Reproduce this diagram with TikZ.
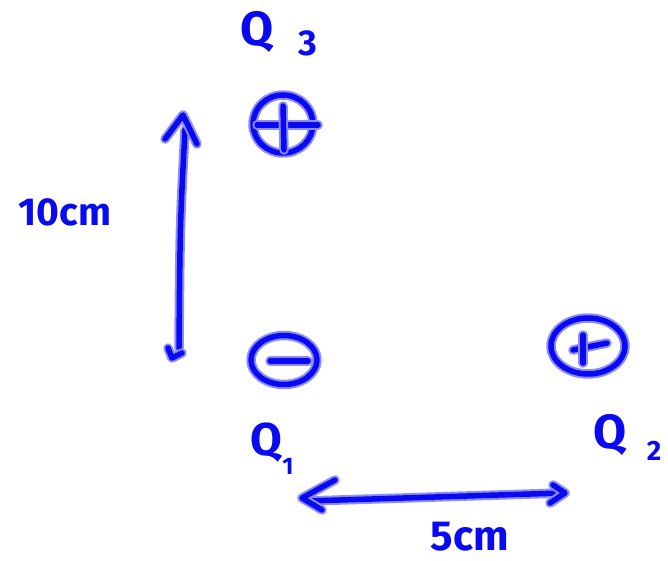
\documentclass[tikz,border=0pt]{standalone}
\usepackage{fontspec}
\newfontfamily\hand{Fira Sans}
\usetikzlibrary{shapes.geometric,calc}
\definecolor{ink}{HTML}{0A0AF0}
\definecolor{halo}{HTML}{8C8CFF}
\begin{document}
\begin{tikzpicture}[x=1pt,y=-1pt,
  ink/.style={draw=ink, line width=5.5pt, line cap=round, line join=round,
              preaction={draw=halo, line width=9.5pt, line cap=round, line join=round}},
  charge/.style={ellipse, ink, inner sep=0pt},
  lbl/.style={text=ink, font=\hand\bfseries\fontsize{#1}{#1}\selectfont, inner sep=0pt, anchor=base},
]
\useasboundingbox (0,0) rectangle (668,561);

% charges
\node[charge, minimum width=60pt, minimum height=58pt] (q3) at (283,124) {};
\node[charge, minimum width=66pt, minimum height=49pt] (q1) at (284,360) {};
\node[charge, minimum width=74pt, minimum height=56pt] (q2) at (588,346) {};

% signs
\draw[ink] ($(q3.center)+(-26,1)$) -- ($(q3.center)+(35,1)$);
\draw[ink] ($(q3.center)+(0,-18)$) -- ($(q3.center)+(1,26)$);
\draw[ink] ($(q1.center)+(-14,1)$) -- ($(q1.center)+(24,1)$);
\draw[ink] ($(q2.center)+(-15,4)$) -- ($(q2.center)+(19,-3)$);
\draw[ink] ($(q2.center)+(-5,-11)$) -- ($(q2.center)+(-5,17)$);

% labels
\node[lbl=48] (l3) at (257,46) {Q};
\node[lbl=36] (l3s) at (308,56) {3};
\node[lbl=46] (l1) at (266,455) {Q};
\node[lbl=24] (l1s) at (288,474) {1};
\node[lbl=48] (l2) at (610,448) {Q};
\node[lbl=28] (l2s) at (654,460) {2};
\node[lbl=39] (d10) at (65,225) {10cm};
\node[lbl=42] (d5) at (470,550) {5cm};

% vertical arrow (10cm)
\coordinate (vt) at (183,115);
\coordinate (vb) at (172,358);
\draw[ink] ($(vt)+(2,15)$) .. controls ($(vt)+(-3,110)$) .. ($(vb)+(7,-10)$);
\draw[ink] ($(vt)+(-18,24)$) -- (vt) -- ($(vt)+(14,29)$);
\draw[ink] ($(vb)+(-4,-10)$) -- (vb) -- ($(vb)+(10,-5)$);

% horizontal arrow (5cm)
\coordinate (hl) at (302,498);
\coordinate (hr) at (565,493);
\draw[ink] ($(hl)+(6,3)$) -- ($(hr)+(-3,0)$);
\draw[ink] ($(hl)+(33,-18)$) -- (hl) -- ($(hl)+(20,12)$);
\draw[ink] ($(hr)+(-12,-8)$) -- (hr) -- ($(hr)+(-15,10)$);
\end{tikzpicture}
\end{document}
